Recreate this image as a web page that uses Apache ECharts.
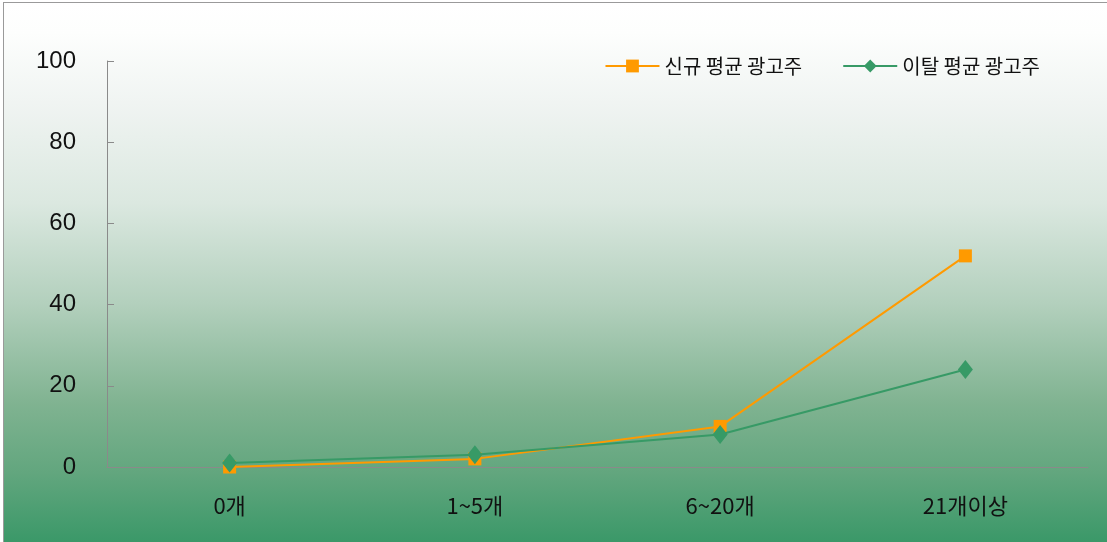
<!DOCTYPE html>
<html><head><meta charset="utf-8">
<script src="https://cdn.jsdelivr.net/npm/echarts@6/dist/echarts.min.js"></script>
<style>
html,body{margin:0;padding:0;background:#fff;width:1107px;height:542px;overflow:hidden;}
#frame{position:absolute;left:3px;top:2px;width:1120px;height:560px;border:1px solid #9a9a9a;
background:linear-gradient(to bottom,#ffffff 0px,#fdfefd 30px,#f0f4f2 100px,#dbe8e0 200px,#b3d0bd 300px,#80b391 400px,#62a67e 470px,#3a9868 540px);}
#chart{position:absolute;left:0;top:0;width:1107px;height:542px;}
</style></head>
<body>
<div id="frame"></div>
<div id="chart"></div>
<script>
const categories = ['0개', '1~5개', '6~20개', '21개이상'];
const newAvg = [0, 2, 10, 52];
const leaveAvg = [1, 3, 8, 24];
const seriesNames = ['신규 평균 광고주', '이탈 평균 광고주'];
const yTicks = [0, 20, 40, 60, 80, 100];

const chart = echarts.init(document.getElementById('chart'), null, {renderer:'canvas'});
chart.setOption({
  backgroundColor: 'transparent',
  animation: false,
  grid: {left:107, right:19, top:61, bottom:75, containLabel:false},
  legend: {
    right: 62, top: 51,
    itemWidth: 54, itemHeight: 16, itemGap: 40,
    textStyle: {fontFamily:'Noto Sans CJK KR', fontSize:20, color:'#111'},
    data: seriesNames
  },
  xAxis: {
    type:'category', data: categories, boundaryGap:true,
    axisLine:{lineStyle:{color:'#8a8a8a', width:1}},
    axisTick:{inside:true, length:8, lineStyle:{color:'#8a8a8a'}},
    axisLabel:{fontFamily:'Noto Sans CJK KR', fontSize:22, color:'#111', margin:28}
  },
  yAxis: {
    type:'value', min:0, max:100, interval:20,
    axisLine:{show:true, lineStyle:{color:'#8a8a8a', width:1}},
    axisTick:{show:true, inside:true, length:7, lineStyle:{color:'#8a8a8a'}},
    splitLine:{show:false},
    axisLabel:{fontFamily:'Liberation Sans, Arial, sans-serif', fontSize:24, color:'#111', margin:31,
      lineHeight:28, padding:[6,0,0,0],
      formatter: v => yTicks.includes(v) ? String(v) : ''}
  },
  series: [
    {name: seriesNames[0], type:'line', data:newAvg, symbol:'rect', symbolSize:13,
     lineStyle:{color:'#ff9a00', width:2}, itemStyle:{color:'#ff9a00'}, z:3},
    {name: seriesNames[1], type:'line', data:leaveAvg, symbol:'diamond', symbolSize:[15,19],
     lineStyle:{color:'#379a66', width:2}, itemStyle:{color:'#379a66'}, z:4}
  ]
});
</script>
</body></html>
